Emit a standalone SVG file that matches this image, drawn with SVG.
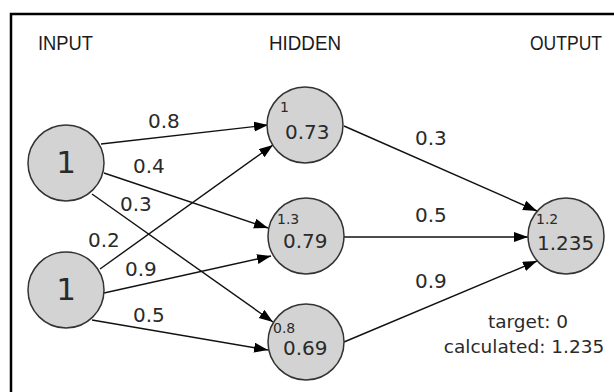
<svg xmlns="http://www.w3.org/2000/svg" width="614" height="392" viewBox="0 0 614 392">
<style>
.hdr{font-family:"Liberation Sans",sans-serif;font-size:21px;fill:#1a1a1a}
.node{fill:#d3d3d3;stroke:#333;stroke-width:1.5}
.val{font-family:"DejaVu Sans",sans-serif;font-size:20px;fill:#2a2a2a}
.big{font-family:"DejaVu Sans",sans-serif;font-size:31px;fill:#2a2a2a;text-anchor:middle}
.sm{font-family:"DejaVu Sans",sans-serif;font-size:14px;fill:#2a2a2a}
.w{font-family:"DejaVu Sans",sans-serif;font-size:20px;fill:#2a2a2a}
.note{font-family:"DejaVu Sans",sans-serif;font-size:18.5px;fill:#2a2a2a;text-anchor:middle}
.edge{stroke:#111;stroke-width:1.4;fill:none;marker-end:url(#ah)}
</style>
<defs>
<marker id="ah" markerUnits="userSpaceOnUse" markerWidth="15" markerHeight="11" refX="14" refY="5" orient="auto">
<path d="M0,0 L14,5 L0,10 z" fill="#000"/>
</marker>
</defs>
<rect width="614" height="392" fill="#fff"/>
<path d="M11,392 L11,14 L614,14" fill="none" stroke="#000" stroke-width="2.5"/>
<text class="hdr" x="38" y="50" textLength="55" lengthAdjust="spacingAndGlyphs">INPUT</text>
<text class="hdr" x="269" y="50" textLength="72" lengthAdjust="spacingAndGlyphs">HIDDEN</text>
<text class="hdr" x="530" y="50" textLength="72" lengthAdjust="spacingAndGlyphs">OUTPUT</text>
<g id="connectors">
<line class="edge" x1="101" y1="144" x2="268" y2="125"/>
<line class="edge" x1="104" y1="173" x2="268" y2="228"/>
<line class="edge" x1="92" y1="194" x2="273" y2="322"/>
<line class="edge" x1="100" y1="269" x2="273" y2="145"/>
<line class="edge" x1="104" y1="293" x2="271" y2="256"/>
<line class="edge" x1="92" y1="320" x2="268" y2="350"/>
<line class="edge" x1="344" y1="126" x2="537" y2="211"/>
<line class="edge" x1="344" y1="237" x2="528" y2="237"/>
<line class="edge" x1="344" y1="342" x2="537" y2="261"/>
<text class="w" x="148" y="128">0.8</text>
<text class="w" x="133" y="173">0.4</text>
<text class="w" x="120" y="211">0.3</text>
<text class="w" x="88" y="247">0.2</text>
<text class="w" x="125" y="276">0.9</text>
<text class="w" x="133" y="322">0.5</text>
<text class="w" x="415" y="145">0.3</text>
<text class="w" x="415" y="222">0.5</text>
<text class="w" x="415" y="288">0.9</text>
</g>
<g id="input1"><circle class="node" cx="66" cy="163" r="38"/><text class="big" x="66" y="173">1</text></g>
<g id="input2"><circle class="node" cx="66" cy="290" r="38"/><text class="big" x="66" y="300">1</text></g>
<g id="hidden1"><circle class="node" cx="305" cy="125" r="38"/><text class="sm" x="280" y="112">1</text><text class="val" x="285" y="139">0.73</text></g>
<g id="hidden2"><circle class="node" cx="306" cy="236" r="38"/><text class="sm" x="277" y="224">1.3</text><text class="val" x="283" y="248">0.79</text></g>
<g id="hidden3"><circle class="node" cx="306" cy="342" r="38"/><text class="sm" x="273" y="333">0.8</text><text class="val" x="283" y="355">0.69</text></g>
<g id="output"><circle class="node" cx="566" cy="236" r="38"/><text class="sm" x="536" y="224">1.2</text><text class="val" x="537" y="250">1.235</text></g>
<g id="note"><text class="note" x="528" y="328">target: 0</text><text class="note" x="524" y="353">calculated: 1.235</text></g>
</svg>
